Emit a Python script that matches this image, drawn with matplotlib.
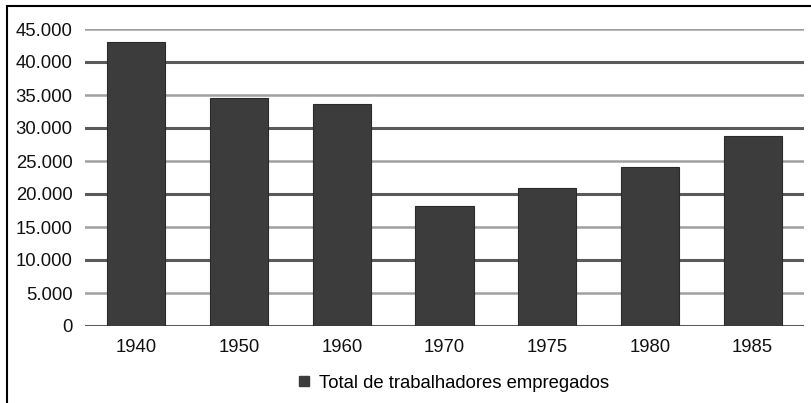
import matplotlib.pyplot as plt
from matplotlib.patches import Rectangle
from matplotlib.lines import Line2D

plt.rcParams['font.family'] = ['Liberation Sans', 'DejaVu Sans']

anos = ['1940', '1950', '1960', '1970', '1975', '1980', '1985']
trabalhadores = [43000, 34500, 33600, 18200, 20900, 24100, 28800]
ticks_y = [0, 5000, 10000, 15000, 20000, 25000, 30000, 35000, 40000, 45000]
rotulos_y = ['0', '5.000', '10.000', '15.000', '20.000', '25.000', '30.000', '35.000', '40.000', '45.000']
serie = 'Total de trabalhadores empregados'

fig = plt.figure(figsize=(8.12, 4.03), dpi=100)
ax = fig.add_axes([85 / 812, 1 - 326 / 403, (804 - 85) / 812, (326 - 29) / 403])

# grid lines: strong at each 10.000, light in between
for v in ticks_y:
    if v % 10000 == 0:
        ax.axhline(v, color='#5a5a5a', lw=2.2, zorder=1)
    else:
        ax.axhline(v, color='#a0a0a0', lw=1.8, zorder=1)

x = range(len(anos))
ax.bar(x, trabalhadores, width=0.565, color='#3c3c3c', edgecolor='#2a2a2a', lw=0.8, zorder=2)

ax.set_xlim(-0.5, len(anos) - 0.5)
ax.set_ylim(0, 45000)
ax.set_yticks(ticks_y)
ax.set_yticklabels(rotulos_y)
ax.set_xticks(list(x))
ax.set_xticklabels(anos)
ax.tick_params(axis='both', length=0, labelsize=13.3, colors='#111111')
ax.tick_params(axis='y', pad=9)
ax.tick_params(axis='x', pad=9)
for s in ax.spines.values():
    s.set_visible(False)

handle = Line2D([], [], marker='s', ls='none', color='#3c3c3c', markersize=7)
fig.legend([handle], [serie], loc='center', bbox_to_anchor=(452 / 812, 1 - 383 / 403),
           frameon=False, fontsize=13.3, handletextpad=0.3, handlelength=1.0)

# border of the original image
fig.patches.append(Rectangle((7 / 812, -0.1), 1.2, 1 - 6 / 403 + 0.1, transform=fig.transFigure,
                             fill=False, ec='black', lw=1.5))

fig.savefig('out.png', dpi=100)
